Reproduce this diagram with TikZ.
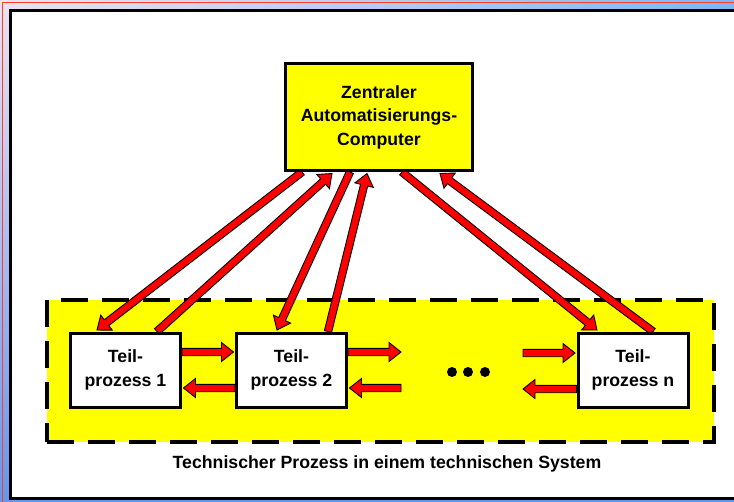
\documentclass[tikz,border=0pt]{standalone}
\usepackage{fontspec}
\setmainfont{Liberation Sans}
\usetikzlibrary{calc,shadings}
\definecolor{procyellow}{RGB}{255,255,0}
\definecolor{arrowred}{RGB}{255,0,0}
\definecolor{framered}{RGB}{255,64,32}
\definecolor{frameA}{RGB}{238,226,242}
\definecolor{frameB}{RGB}{125,182,246}
\definecolor{frameC}{RGB}{100,150,238}
\newcommand\blkarrow[2]{%
  \coordinate (bac) at ($(#2)!12pt!(#1)$);
  \draw[blockarrow] ($(#1)!3.7pt!90:(#2)$) -- ($(bac)!3.7pt!90:(#2)$) -- ($(bac)!9.5pt!90:(#2)$) -- (#2)
    -- ($(bac)!9.5pt!-90:(#2)$) -- ($(bac)!3.7pt!-90:(#2)$) -- ($(#1)!3.7pt!-90:(#2)$) -- cycle;}
\begin{document}
\begin{tikzpicture}[x=1pt,y=-1pt,
  txt/.style={font=\bfseries\fontsize{17.7}{23.5}\selectfont, align=center, inner sep=0pt},
  teilbox/.style={txt, draw=black, line width=3pt, fill=white, minimum width=110pt, minimum height=74pt},
  compbox/.style={txt, draw=black, line width=3pt, fill=procyellow, minimum width=187pt, minimum height=107pt},
  blockarrow/.style={draw=black, fill=arrowred, line width=0.9pt, line join=miter},
  region/.style={draw=black, fill=procyellow, line width=4pt, dash pattern=on 27pt off 14pt},
  dot/.style={fill=black}
]
\useasboundingbox (0,0) rectangle (734,501);
% frame
\shade[upper left=frameA, upper right=frameB, lower left=frameC, lower right=frameC] (0,0) rectangle (734,501);
\draw[framered, line width=1.5pt] (2.5,2.5) rectangle (760,530);
\draw[black, line width=3pt, fill=white] (10,10) rectangle (760,498.5);
% process region
\draw[region] (47,442) -- (714,442) -- (714,300) -- (47,300) -- cycle;
\node[txt] (label) at (387,464) {Technischer Prozess in einem technischen System};
% dots
\foreach \x/\n in {452/1,468/2,485/3} \fill[dot] (\x,372) circle (5pt) coordinate (dot\n);
% nodes (placed first for anchors)
\path node[compbox] (comp) at (379,117) {Zentraler\\Automatisierungs-\\Computer};
\path node[teilbox] (t1) at (125.5,370) {Teil-\\prozess 1}
      node[teilbox] (t2) at (291.5,370) {Teil-\\prozess 2}
      node[teilbox] (tn) at (633,370) {Teil-\\prozess n};
% connector end points
\coordinate (d1s) at (302,0 |- comp.south);
\coordinate (d1e) at ($(97,0 |- t1.north)+(0,-1.5)$);
\coordinate (d2s) at (157,0 |- t1.north);
\coordinate (d2e) at ($(332,0 |- comp.south)+(0,1.5)$);
\coordinate (d3s) at (350,0 |- comp.south);
\coordinate (d3e) at ($(277,0 |- t2.north)+(0,-1.5)$);
\coordinate (d4s) at (328,0 |- t2.north);
\coordinate (d4e) at ($(367,0 |- comp.south)+(0,1.5)$);
\coordinate (d5s) at (402,0 |- comp.south);
\coordinate (d5e) at ($(597,0 |- tn.north)+(0,-1.5)$);
\coordinate (d6s) at (653,0 |- tn.north);
\coordinate (d6e) at ($(440,0 |- comp.south)+(0,1.5)$);
\coordinate (h1s) at (t1.east |- 0,352);
\coordinate (h1e) at ($(t2.west |- 0,352)+(-1.5,0)$);
\coordinate (h2s) at (t2.west |- 0,388);
\coordinate (h2e) at ($(t1.east |- 0,388)+(1.5,0)$);
\coordinate (h3s) at (t2.east |- 0,352);
\coordinate (h3e) at (401,352);
\coordinate (h4s) at (401,388);
\coordinate (h4e) at ($(t2.east |- 0,388)+(1.5,0)$);
\coordinate (h5s) at (523,353);
\coordinate (h5e) at ($(tn.west |- 0,353)+(-1.5,0)$);
\coordinate (h6s) at (tn.west |- 0,389);
\coordinate (h6e) at (523,389);
% arrows
\foreach \a in {d1,d2,d3,d4,d5,d6,h1,h2,h3,h4,h5,h6} {\blkarrow{\a s}{\a e}}
% redraw nodes on top of arrow tails
\node[compbox] at (comp) {Zentraler\\Automatisierungs-\\Computer};
\node[teilbox] at (t1) {Teil-\\prozess 1};
\node[teilbox] at (t2) {Teil-\\prozess 2};
\node[teilbox] at (tn) {Teil-\\prozess n};
\end{tikzpicture}
\end{document}
